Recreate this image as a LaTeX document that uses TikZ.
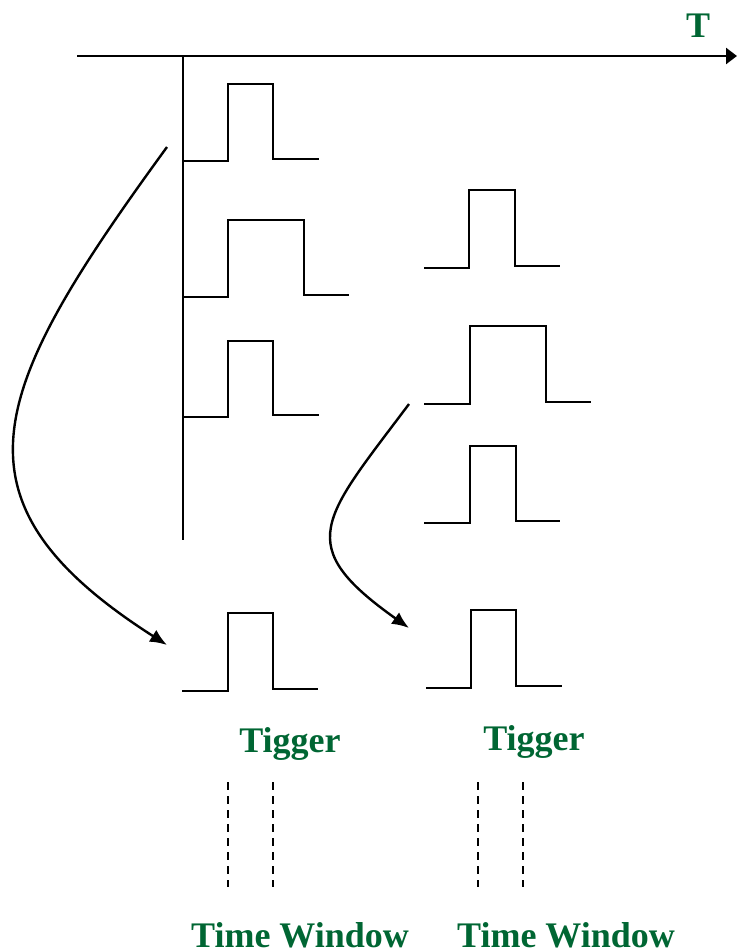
\documentclass[tikz,border=0pt]{standalone}
\usepackage{fontspec}
\setmainfont{Liberation Serif}
\usetikzlibrary{arrows.meta}
\definecolor{labelgreen}{RGB}{0,102,51}
\begin{document}
\begin{tikzpicture}[x=1pt,y=-1pt,
  wire/.style={line width=2.5pt},
  signal/.style={line width=2.5pt, line join=miter},
  bendarrow/.style={line width=2.4pt,-{Latex[length=17pt,width=14pt]}},
  window/.style={line width=1.8pt, dash pattern=on 8pt off 6pt},
  greentext/.style={text=labelgreen, font=\bfseries\fontsize{36}{40}\selectfont, inner sep=0pt, anchor=base}]
\useasboundingbox (0,0) rectangle (737,951);

% time axis and the vertical stack line
\coordinate (axL) at (77,56);
\coordinate (axR) at (737,56);
\coordinate (vTop) at (183,56);
\coordinate (vBot) at (183,540);
\draw[wire,-{Triangle[length=11pt,width=16pt]}] (axL) -- (axR);
\draw[wire] (vTop) -- (vBot);
\node[greentext] (tlab) at (698,37) {T};

% incoming pulses, left column
\draw[signal] (183,161) -- (228,161) -- (228,84) -- (273,84) -- (273,159) -- (319,159);
\draw[signal] (183,297) -- (228,297) -- (228,220) -- (304,220) -- (304,295) -- (349,295);
\draw[signal] (183,417) -- (228,417) -- (228,341) -- (273,341) -- (273,415) -- (319,415);

% incoming pulses, right column
\draw[signal] (424,268) -- (469,268) -- (469,190) -- (515,190) -- (515,266) -- (560,266);
\draw[signal] (424,404) -- (470,404) -- (470,326) -- (546,326) -- (546,402) -- (591,402);
\draw[signal] (424,523) -- (470,523) -- (470,446) -- (516,446) -- (516,521) -- (560,521);

% resulting trigger pulses
\draw[signal] (182,691) -- (228,691) -- (228,613) -- (273,613) -- (273,689) -- (318,689);
\draw[signal] (426,688) -- (471,688) -- (471,610) -- (516,610) -- (516,686) -- (562,686);

% curved arrows leading to the triggers
\coordinate (s1) at (167,147);
\coordinate (e1) at (167,645);
\coordinate (s2) at (409,404);
\coordinate (e2) at (409,628);
\draw[bendarrow] (s1) .. controls (-10,390) and (-60,500) .. (e1);
\draw[bendarrow] (s2) .. controls (322,520) and (292,545) .. (e2);

% labels
\node[greentext] (trigL) at (290,752) {Tigger};
\node[greentext] (trigR) at (534,750) {Tigger};

% time windows
\coordinate (w1a) at (228,782); \coordinate (w1b) at (228,887);
\coordinate (w2a) at (273,782); \coordinate (w2b) at (273,887);
\coordinate (w3a) at (478,782); \coordinate (w3b) at (478,887);
\coordinate (w4a) at (523,782); \coordinate (w4b) at (523,887);
\draw[window] (w1a) -- (w1b);
\draw[window] (w2a) -- (w2b);
\draw[window] (w3a) -- (w3b);
\draw[window] (w4a) -- (w4b);

\node[greentext] (winL) at (300,947) {Time Window};
\node[greentext] (winR) at (566,947) {Time Window};
\end{tikzpicture}
\end{document}
